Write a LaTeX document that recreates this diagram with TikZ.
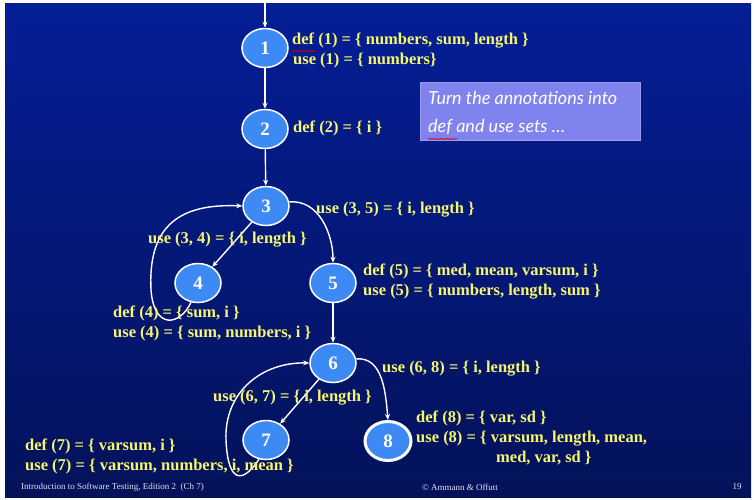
\documentclass[tikz,border=0pt]{standalone}
\usepackage{fontspec}
\setmainfont{Liberation Serif}
\newfontfamily\boxfont{Lato}
\usetikzlibrary{shapes.geometric,arrows.meta,decorations.pathmorphing}
\definecolor{bgtop}{RGB}{4,30,150}
\definecolor{bgbot}{RGB}{4,18,90}
\definecolor{nodefill}{RGB}{62,138,245}
\definecolor{labelyellow}{RGB}{245,245,110}
\definecolor{boxfill}{RGB}{128,130,238}
\definecolor{foot}{RGB}{225,225,235}
\begin{document}
\begin{tikzpicture}[x=1pt,y=-1pt,
  vert/.style={ellipse, draw=white, line width=1.5pt, fill=nodefill, minimum width=46pt, minimum height=39pt, inner sep=0pt, text=white, font=\bfseries\fontsize{19}{19}\selectfont},
  finalvert/.style={vert, line width=3pt},
  lab/.style={text=labelyellow, font=\bfseries\fontsize{16.5}{20}\selectfont, anchor=west, align=left, inner sep=0pt},
  arr/.style={draw=white, line width=1.4pt, -{Stealth[length=6pt,width=5pt]}},
  footer/.style={text=foot, font=\fontsize{9}{10}\selectfont, inner sep=0pt},
  squiggle/.style={draw=red!85!black, line width=0.6pt, decorate, decoration={snake, amplitude=0.7pt, segment length=3pt}}
]
\useasboundingbox (0,0) rectangle (754,499);
\fill[white] (0,0) rectangle (754,499);
\shade[top color=bgtop, bottom color=bgbot] (5,3) rectangle (751,497);

% vertices
\node[vert] (n1) at (265,48) {1};
\node[vert] (n2) at (265,129) {2};
\node[vert] (n3) at (266,206) {3};
\node[vert] (n4) at (198,283) {4};
\node[vert] (n5) at (333,283) {5};
\node[vert] (n6) at (333,363) {6};
\node[vert] (n7) at (266,440) {7};
\node[finalvert] (n8) at (388,441) {8};
\coordinate (entry) at (265,3);

% edges
\draw[arr] (entry) -- (n1);
\draw[arr] (n1) -- (n2);
\draw[arr] (n2) -- (n3);
\draw[arr] (n3) -- (n4);
\draw[arr] (n3.10) to[out=5,in=90] (n5.north);
\draw[arr] (n4.250) .. controls (180,326) and (154,330) .. (151,290) .. controls (148,230) and (175,203) .. (n3.west);
\draw[arr] (n5) -- (n6);
\draw[arr] (n6) -- (n7);
\draw[arr] (n6.10) to[out=5,in=95] (n8.north);
\draw[arr] (n7.250) .. controls (244,482) and (228,486) .. (226,440) .. controls (224,392) and (262,362) .. (n6.west);

% labels
\node[lab] (l1) at (292,50) {def (1) = \{ numbers, sum, length \}\\\hspace*{1pt}use (1) = \{ numbers\}};
\draw[squiggle] (292,51) -- (315,51);
\node[lab] (l2) at (293,128) {def (2) = \{ i \}};
\node[lab] (l35) at (316,210) {use (3, 5) = \{ i, length \}};
\node[lab] (l34) at (148,240) {use (3, 4) = \{ i, length \}};
\node[lab] (l5) at (363,282) {def (5) = \{ med, mean, varsum, i \}\\use (5) = \{ numbers, length, sum \}};
\node[lab] (l4) at (113,323) {def (4) = \{ sum, i \}\\use (4) = \{ sum, numbers, i \}};
\node[lab] (l68) at (382,369) {use (6, 8) = \{ i, length \}};
\node[lab] (l67) at (213,398) {use (6, 7) = \{ i, length \}};
\node[lab] (l8) at (416,438) {def (8) = \{ var, sd \}\\use (8) = \{ varsum, length, mean,\\\hspace*{80pt}med, var, sd \}};
\node[lab] (l7) at (25,456) {def (7) = \{ varsum, i \}\\use (7) = \{ varsum, numbers, i, mean \}};

% annotation box
\node[fill=boxfill, draw=boxfill!80!white, line width=0.5pt, minimum width=220pt, minimum height=58pt, anchor=north west, inner sep=0pt] (box) at (420,82) {};
\node[text=white, font=\boxfont\itshape\fontsize{18}{28}\selectfont, align=left, anchor=west, inner sep=0pt] (boxtext) at (428,113) {Turn the annotations into\\def and use sets \dots};
\draw[squiggle] (428,139) -- (457,139);

% footer
\node[footer, anchor=west] (f1) at (21,487) {Introduction to Software Testing, Edition 2\ \ (Ch 7)};
\node[footer] (f2) at (460,487) {\textcopyright\ Ammann \& Offutt};
\node[footer] (f3) at (737,487) {19};
\end{tikzpicture}
\end{document}
